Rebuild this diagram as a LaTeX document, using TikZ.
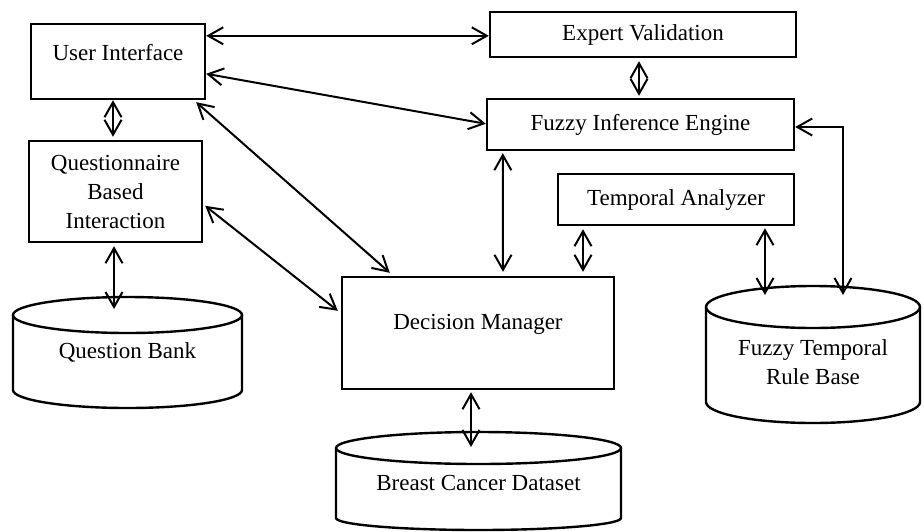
\documentclass[tikz,border=0pt]{standalone}
\usepackage{fontspec}
\setmainfont{Liberation Serif}
\usetikzlibrary{arrows.meta,calc}
\begin{document}
\begin{tikzpicture}[x=1pt,y=-1pt,
  box/.style={draw, line width=2.4pt, inner sep=0pt},
  lbl/.style={font=\fontsize{23}{29}\selectfont, align=center, inner sep=0pt},
  link/.style={line width=2pt, >={Straight Barb[length=15pt,width=17pt]}, <->},
  cyl/.style={line width=2.4pt}]
\useasboundingbox (0,0) rectangle (924,531);

% boxes
\node[box, minimum width=174pt, minimum height=75pt] (ui) at (118,61.5) {};
\node[lbl] (uit) at (118,53) {User Interface};
\node[box, lbl, minimum width=173pt, minimum height=101pt] (qbi) at (115.5,191.5) {Questionnaire\\Based\\Interaction};
\node[box, lbl, minimum width=306pt, minimum height=45pt] (ev) at (643,34.5) {Expert Validation};
\node[box, lbl, minimum width=307pt, minimum height=51pt] (fie) at (640.5,124.5) {Fuzzy Inference Engine};
\node[box, lbl, minimum width=236pt, minimum height=51pt] (ta) at (676,199.5) {Temporal Analyzer};
\node[box, minimum width=272pt, minimum height=112pt] (dm) at (478,333) {};
\node[lbl] (dmt) at (478,324) {Decision Manager};

% cylinders
\draw[cyl] (127.5,315) ellipse[x radius=114.5, y radius=18];
\draw[cyl] (13,315) -- (13,390) arc[start angle=180, end angle=0, x radius=114.5, y radius=18] -- (242,315);
\node[lbl] (qbank) at (127.5,352) {Question Bank};

\draw[cyl] (478.5,448) ellipse[x radius=142.5, y radius=16];
\draw[cyl] (336,448) -- (336,518) arc[start angle=180, end angle=0, x radius=142.5, y radius=12] -- (621,448);
\node[lbl] (bcd) at (478.5,483) {Breast Cancer Dataset};

\draw[cyl] (813,307) ellipse[x radius=107, y radius=21];
\draw[cyl] (706,307) -- (706,402) arc[start angle=180, end angle=0, x radius=107, y radius=21] -- (920,307);
\node[lbl] (frb) at (813,362) {Fuzzy Temporal\\Rule Base};

\coordinate (qbtop) at (114,309);
\coordinate (bcdtop) at (471,447);
\coordinate (rbtop1) at (765,295);
\coordinate (rbtop2) at (843,295);

% connectors
\draw[link] ($(ui.north east)+(0,13)$) -- ($(ev.north west)+(0,25)$);
\draw[link] ($(ui.north east)+(0,51)$) -- ($(fie.north west)+(0,26)$);
\draw[link] ($(ui.south east)+(-10,2)$) -- ($(dm.north west)+(49,-3)$);
\draw[link] ($(qbi.north east)+(2,66)$) -- ($(dm.north west)+(-3,35)$);
\draw[link] ($(ui.south)+(-5,0)$) -- ($(qbi.north)+(-2.5,-3)$);
\draw[link] ($(qbi.south)+(-1.5,3)$) -- (qbtop);
\draw[link] ($(ev.south)+(-4,3)$) -- ($(fie.north)+(-1.5,-2)$);
\draw[link] ($(fie.south west)+(17,2)$) -- ($(dm.north)+(25,-4)$);
\draw[link] ($(ta.south west)+(26.2,3)$) -- ($(dm.north)+(105,-4)$);
\draw[link] ($(ta.south)+(89,2)$) -- (rbtop1);
\draw[link] ($(fie.east)+(0,2.5)$) -| (rbtop2);
\draw[link] ($(dm.south)+(-7,2)$) -- (bcdtop);
\end{tikzpicture}
\end{document}
